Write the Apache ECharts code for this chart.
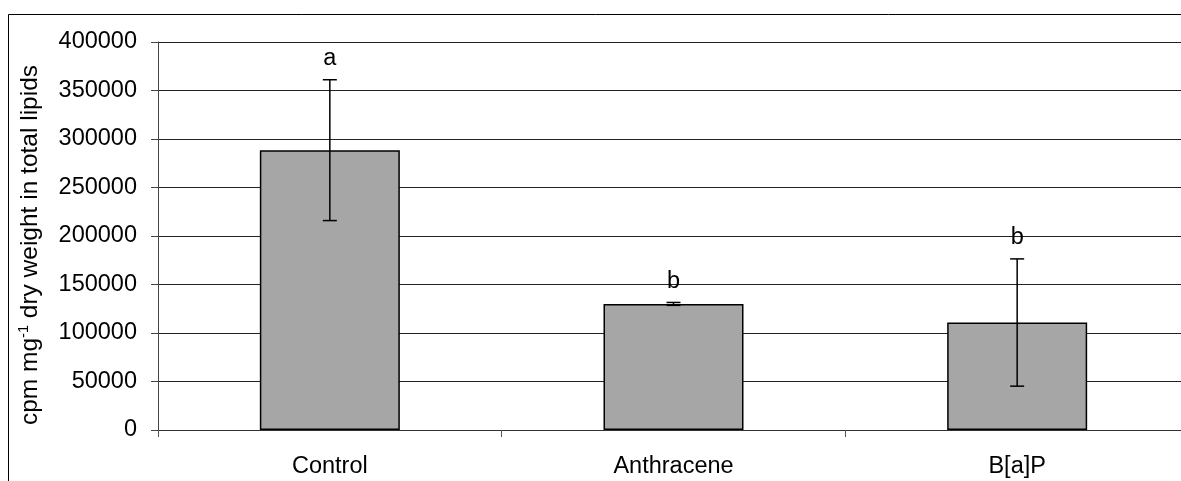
<!DOCTYPE html>
<html><head><meta charset="utf-8">
<script src="https://cdn.jsdelivr.net/npm/echarts@6/dist/echarts.min.js"></script>
<style>html,body{margin:0;padding:0;background:#fff}#c{width:1181px;height:481px}</style>
</head><body><div id="c"></div>
<script>
const categories = ['Control', 'Anthracene', 'B[a]P'];
const means = [288500, 130000, 110800];
const errors = [72600, 1500, 65600];
const letters = ['a', 'b', 'b'];
const yTicks = [0, 50000, 100000, 150000, 200000, 250000, 300000, 350000, 400000];

const FONT = 'Liberation Sans, Arial, sans-serif';
const FS = 23.5;
const chart = echarts.init(document.getElementById('c'), null, {renderer: 'canvas'});
const errData = categories.map((c, i) => [i, means[i] - errors[i], means[i] + errors[i]]);

chart.setOption({
  animation: false,
  backgroundColor: '#fff',
  graphic: [{
    type: 'rect', shape: {x: 8.5, y: 14.5, width: 1400, height: 700},
    style: {fill: 'none', stroke: '#000', lineWidth: 1}, z: 0
  }, {
    type: 'text', x: 30, y: 245, rotation: Math.PI / 2, z: 10,
    style: {
      text: '{n|cpm mg}{s|-1}{n| dry weight in total lipids}',
      align: 'center', verticalAlign: 'middle',
      rich: {
        n: {fontFamily: FONT, fontSize: 24.5, fill: '#000', lineHeight: 28},
        s: {fontFamily: FONT, fontSize: 14.5, fill: '#000', lineHeight: 28, verticalAlign: 'top', padding: [0, 0, 12, 0]}
      }
    }
  }],
  grid: {left: 158, top: 42, width: 1031, height: 388, containLabel: false, outerBoundsMode: 'none'},
  xAxis: {
    type: 'category', data: categories,
    axisLine: {lineStyle: {color: '#333', width: 1}},
    axisTick: {show: true, length: 7, lineStyle: {color: '#555'}},
    axisLabel: {color: '#000', fontFamily: FONT, fontSize: FS, margin: 25},
    splitLine: {show: false}
  },
  yAxis: {
    type: 'value', min: yTicks[0], max: yTicks[yTicks.length - 1], interval: 50000,
    axisLine: {show: true, lineStyle: {color: '#444', width: 1}},
    axisTick: {show: true, length: 7, lineStyle: {color: '#444'}},
    axisLabel: {color: '#000', fontFamily: FONT, fontSize: FS, margin: 21, formatter: v => String(v)},
    splitLine: {show: true, lineStyle: {color: '#222', width: 1}}
  },
  series: [{
    type: 'bar', data: means, barWidth: 140, z: 2,
    itemStyle: {color: '#a6a6a6', borderColor: '#000', borderWidth: 1.5}
  }, {
    type: 'custom', z: 5,
    data: errData,
    renderItem: function (params, api) {
      const x = api.coord([api.value(0), 0])[0];
      const lo = api.coord([api.value(0), api.value(1)])[1];
      const hi = api.coord([api.value(0), api.value(2)])[1];
      const cap = 7;
      const st = {stroke: '#000', lineWidth: 1.5};
      return {type: 'group', children: [
        {type: 'line', shape: {x1: x, y1: lo, x2: x, y2: hi}, style: st},
        {type: 'line', shape: {x1: x - cap, y1: lo, x2: x + cap, y2: lo}, style: st},
        {type: 'line', shape: {x1: x - cap, y1: hi, x2: x + cap, y2: hi}, style: st},
        {type: 'text', style: {text: letters[params.dataIndex], x: x, y: hi - 9,
          align: 'center', verticalAlign: 'bottom', fill: '#000',
          font: FS + 'px ' + FONT}}
      ]};
    }
  }]
});
</script></body></html>
